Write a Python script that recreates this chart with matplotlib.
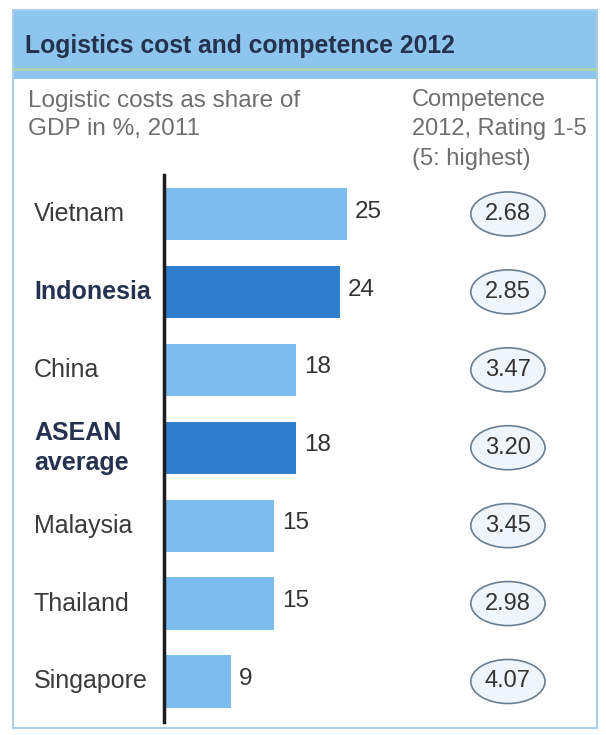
import matplotlib
matplotlib.use("Agg")
import matplotlib.pyplot as plt
from matplotlib.patches import Rectangle, Ellipse
from matplotlib.lines import Line2D
from matplotlib.transforms import blended_transform_factory

plt.rcParams['font.family'] = ['Liberation Sans', 'DejaVu Sans']

countries = ['Vietnam', 'Indonesia', 'China', 'ASEAN\naverage', 'Malaysia', 'Thailand', 'Singapore']
costs = [25, 24, 18, 18, 15, 15, 9]
ratings = ['2.68', '2.85', '3.47', '3.20', '3.45', '2.98', '4.07']
highlight = [False, True, False, True, False, False, False]

W, H = 606, 735
light_bar = '#7dbdee'
dark_bar = '#2e7fcc'
navy = '#24314f'


def fx(px):
    return px / W


def fy(py):
    return 1 - py / H


fig = plt.figure(figsize=(W / 100, H / 100), dpi=100)
fig.patch.set_facecolor('white')

# frame and title band
fig.add_artist(Rectangle((fx(13), fy(79)), fx(597) - fx(13), fy(10) - fy(79),
                         transform=fig.transFigure, facecolor='#8ec5ec', edgecolor='none'))
fig.add_artist(Line2D([fx(14), fx(596)], [fy(69), fy(69)], transform=fig.transFigure,
                      color='#a9d6a6', lw=2))
fig.add_artist(Rectangle((fx(13), fy(728)), fx(597) - fx(13), fy(10) - fy(728),
                         transform=fig.transFigure, facecolor='none', edgecolor='#a8d0ec', lw=1.5))
fig.text(fx(25), fy(46), 'Logistics cost and competence 2012', fontsize=17.8,
         fontweight='bold', color=navy, va='center', ha='left')

# subtitles
fig.text(fx(28), fy(101), 'Logistic costs as share of', fontsize=17.5, color='#6e6e6e', va='center')
fig.text(fx(28), fy(129), 'GDP in %, 2011', fontsize=17.5, color='#6e6e6e', va='center')
for i, line in enumerate(['Competence', '2012, Rating 1-5', '(5: highest)']):
    fig.text(fx(412), fy(100 + 29.5 * i), line, fontsize=17, color='#6e6e6e', va='center')

# bars
ax = fig.add_axes([fx(164), fy(722), fx(596) - fx(164), fy(175) - fy(722)])
ax.set_facecolor('none')
ypos = list(range(len(countries)))
colors = [dark_bar if h else light_bar for h in highlight]
ax.barh(ypos, costs, height=0.67, color=colors, left=0)
ax.set_xlim(-0.14, 59.2)
ax.set_ylim(6.52, -0.5)
for s in ['top', 'right', 'bottom']:
    ax.spines[s].set_visible(False)
ax.spines['left'].set_linewidth(2.5)
ax.spines['left'].set_color('#1c1c1c')
ax.set_xticks([])
ax.set_yticks([])

for y, v in zip(ypos, costs):
    ax.text(v + 1.1, y - 0.03, str(v), fontsize=17.5, color='#333333', va='center', ha='left')

# ratings in ellipses
for y, r in zip(ypos, ratings):
    ax.add_patch(Ellipse((47.1, y), 10.2, 0.565, facecolor='#eef5fb', edgecolor='#6a7f92', lw=1.2))
    ax.text(47.1, y, r, fontsize=17, color='#333333', va='center', ha='center')

# category labels
trans = blended_transform_factory(fig.transFigure, ax.transData)
for y, name, h in zip(ypos, countries, highlight):
    ax.text(fx(34), y, name, transform=trans, fontsize=18, va='center', ha='left',
            fontweight='bold' if h else 'normal', color=navy if h else '#3a3a3a',
            linespacing=1.3)

fig.savefig('out.png', dpi=100)
